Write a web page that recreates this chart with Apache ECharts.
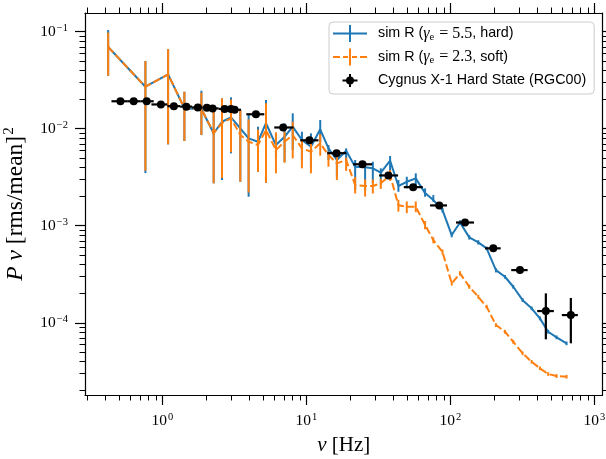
<!DOCTYPE html>
<html><head><meta charset="utf-8">
<script src="https://cdn.jsdelivr.net/npm/echarts@6.0.0/dist/echarts.min.js"></script>
<style>html,body{margin:0;padding:0;background:#fff}#c{width:606px;height:459px}</style>
</head><body><div id="c"></div>
<script>
// ---------- data ----------
const simFreq = [0.42, 0.762, 1.095, 1.421, 1.865, 2.269, 2.594, 2.995, 3.475, 3.968, 4.61, 5.238, 6.144, 7.05, 8.035, 9.307, 10.75, 12.47, 14.23, 16.28, 18.88, 21.8, 25.56, 28.92, 32.86, 38.12, 43.53, 49.77, 57.45, 66.68, 76.08, 88.14, 102.1, 116.6, 135.2, 156.1, 178.5, 207.1, 239.1, 273.1, 317.3, 366.3, 418.2, 477.4, 546, 640.5];

const hardPow = [0.0696, 0.0271, 0.0364, 0.0162, 0.0160, 0.00897, 0.0118, 0.0131, 0.0101, 0.00796, 0.00735, 0.0114, 0.00679, 0.00827, 0.0105, 0.00765, 0.00652, 0.00986, 0.00628, 0.00476, 0.00593, 0.00406, 0.0040, 0.00391, 0.00352, 0.00468, 0.00257, 0.00284, 0.00308, 0.00217, 0.00184, 0.00145, 0.000802, 0.00108, 0.000759, 0.000674, 0.000585, 0.000349, 0.000298, 0.000235, 0.000171, 0.000141, 0.000111, 0.0000808, 0.0000707, 0.0000613];
const hardLo = [0.0352, 0.00349, 0.0069, 0.00747, 0.00861, 0.00274, 0.00296, 0.00558, 0.00284, 0.00199, 0.0036, 0.00277, 0.00495, 0.00457, 0.00603, 0.00476, 0.00391, 0.00735, 0.00476, 0.0032, 0.00457, 0.00233, 0.00233, 0.00274, 0.00263, 0.0036, 0.00224, 0.00243, 0.00257, 0.00199, 0.00177, 0.00137, 0.00076, 0.00102, 0.00072, 0.00064, 0.00056, 0.00033, 0.000285, 0.000225, 0.000164, 0.000135, 0.000106, 0.0000773, 0.0000677, 0.0000587];
const hardHi = [0.1041, 0.0499, 0.0663, 0.02406, 0.02465, 0.01686, 0.02057, 0.02107, 0.01559, 0.01384, 0.01049, 0.01976, 0.00897, 0.01137, 0.01442, 0.00931, 0.00897, 0.01229, 0.00679, 0.00579, 0.00628, 0.00476, 0.00457, 0.00457, 0.00391, 0.00523, 0.00296, 0.0032, 0.00347, 0.00243, 0.00207, 0.00153, 0.00085, 0.00114, 0.0008, 0.00071, 0.00061, 0.000365, 0.000311, 0.000245, 0.000179, 0.000147, 0.000116, 0.0000845, 0.0000739, 0.000064];

const softPow = [0.0696, 0.0271, 0.0364, 0.0162, 0.0160, 0.00904, 0.01145, 0.0128, 0.00861, 0.00735, 0.00679, 0.0097, 0.00603, 0.00735, 0.00861, 0.00628, 0.00579, 0.00707, 0.00536, 0.0044, 0.00476, 0.00263, 0.00257, 0.00257, 0.00274, 0.00333, 0.00163, 0.00157, 0.00157, 0.00102, 0.000712, 0.000536, 0.000255, 0.000323, 0.000235, 0.000185, 0.000146, 0.0000947, 0.0000808, 0.0000637, 0.0000484, 0.0000396, 0.0000339, 0.0000296, 0.0000282, 0.0000278];
const softLo = [0.0352, 0.0037, 0.0069, 0.00747, 0.00861, 0.00274, 0.0031, 0.00574, 0.00284, 0.0022, 0.0036, 0.00277, 0.00347, 0.00446, 0.00495, 0.00391, 0.00347, 0.00527, 0.00406, 0.00296, 0.00367, 0.00215, 0.002, 0.00215, 0.0024, 0.0029, 0.0014, 0.00135, 0.00138, 0.00092, 0.00066, 0.000505, 0.000242, 0.000307, 0.000224, 0.000177, 0.00014, 0.0000905, 0.0000773, 0.000061, 0.0000464, 0.000038, 0.0000325, 0.0000284, 0.000027, 0.0000266];
const softHi = [0.098, 0.0499, 0.0663, 0.02406, 0.0235, 0.0165, 0.02057, 0.02, 0.01559, 0.0125, 0.0098, 0.0183, 0.00919, 0.00931, 0.01184, 0.00764, 0.00797, 0.00881, 0.00579, 0.00535, 0.00504, 0.0032, 0.003, 0.003, 0.00305, 0.00375, 0.00185, 0.00178, 0.00178, 0.00112, 0.00076, 0.000568, 0.000268, 0.00034, 0.000247, 0.000194, 0.000153, 0.000099, 0.0000845, 0.0000666, 0.0000505, 0.0000413, 0.0000354, 0.0000309, 0.0000295, 0.000029];

const cygFreq = [0.511, 0.632, 0.778, 0.976, 1.201, 1.467, 1.763, 2.035, 2.233, 2.704, 2.995, 3.172, 4.46, 6.9, 10.5, 16.2, 24.5, 37.1, 55.1, 83.7, 126.3, 198.5, 304, 460, 686];
const cygFreqLo = [0.4428, 0.5691, 0.7016, 0.8387, 1.083, 1.327, 1.607, 1.894, 2.132, 2.457, 2.846, 3.083, 3.824, 5.979, 9.057, 13.94, 21.11, 31.98, 47.46, 72.21, 109.3, 173.8, 264.5, 400.6, 594.0];
const cygFreqHi = [0.5691, 0.7016, 0.8702, 1.083, 1.327, 1.607, 1.894, 2.132, 2.457, 2.846, 3.083, 3.514, 5.098, 8.137, 12.13, 18.88, 28.60, 43.31, 64.26, 94.71, 145.8, 223.3, 343.6, 522.9, 767.3];
const cygPow = [0.0192, 0.0192, 0.0192, 0.0178, 0.0171, 0.0169, 0.0166, 0.0165, 0.0162, 0.0160, 0.0160, 0.0157, 0.0141, 0.0103, 0.0076, 0.0056, 0.0043, 0.0033, 0.0025, 0.00162, 0.00108, 0.000585, 0.000349, 0.000132, 0.00012];
const cygPowLo = [0.0184, 0.0184, 0.0184, 0.0171, 0.0164, 0.0162, 0.0159, 0.0158, 0.0156, 0.0154, 0.0154, 0.0151, 0.0135, 0.0099, 0.0073, 0.0054, 0.0041, 0.0031, 0.0024, 0.00154, 0.00102, 0.00055, 0.00033, 0.0000675, 0.0000614];
const cygPowHi = [0.0200, 0.0200, 0.0200, 0.0185, 0.0178, 0.0176, 0.0173, 0.0172, 0.0168, 0.0166, 0.0166, 0.0163, 0.0147, 0.0107, 0.0079, 0.0058, 0.0045, 0.0035, 0.0026, 0.00170, 0.00114, 0.00062, 0.00037, 0.000201, 0.00018];

const xMajorTicks = [1, 10, 100, 1000];
const xMinorTicks = [0.3, 0.4, 0.5, 0.6, 0.7, 0.8, 0.9, 2, 3, 4, 5, 6, 7, 8, 9, 20, 30, 40, 50, 60, 70, 80, 90, 200, 300, 400, 500, 600, 700, 800, 900];
const yMajorTicks = [1e-4, 1e-3, 1e-2, 1e-1];
const yMinorTicks = [2e-5, 3e-5, 4e-5, 5e-5, 6e-5, 7e-5, 8e-5, 9e-5, 2e-4, 3e-4, 4e-4, 5e-4, 6e-4, 7e-4, 8e-4, 9e-4, 2e-3, 3e-3, 4e-3, 5e-3, 6e-3, 7e-3, 8e-3, 9e-3, 2e-2, 3e-2, 4e-2, 5e-2, 6e-2, 7e-2, 8e-2, 9e-2];

const legendLabels = {
  hard: '{t|sim R (}{g|γ}{sub|e}{m| = 5.5}{t|, hard)}',
  soft: '{t|sim R (}{g|γ}{sub|e}{m| = 2.3}{t|, soft)}',
  cyg: '{t|Cygnus X-1 Hard State (RGC00)}'
};

// ---------- styling ----------
const BLUE = '#1f77b4', ORANGE = '#ff7f0e';
const X_MIN = 0.29, X_MAX = 1138, Y_MIN = 1.8e-5, Y_MAX = 0.156;
const SERIF = 'Liberation Serif';
const MAJOR_LEN = 10, MINOR_LEN = 5.5, AXIS_W = 1.2;

const labelRich = {
  b: {fontFamily: SERIF, fontSize: 15.5, lineHeight: 16, color: '#000'},
  s: {fontFamily: SERIF, fontSize: 10.5, lineHeight: 11, padding: [0, 0, 7, 1], color: '#000'}
};
function powLabel(v) {
  const e = Math.round(Math.log10(v));
  return '{b|10}{s|' + (e < 0 ? '\u2212' + (-e) : e) + '}';
}

function axisBase(pos, min, max) {
  return {type: 'log', logBase: 10, position: pos, min: min, max: max, gridIndex: 0,
    splitLine: {show: false}, minorTick: {show: false}, minorSplitLine: {show: false}};
}
function majorAxis(pos, min, max, ticks, showLabels, margin) {
  const a = axisBase(pos, min, max);
  a.axisLine = {show: true, lineStyle: {color: '#000', width: AXIS_W}};
  a.axisTick = {show: true, inside: false, length: MAJOR_LEN, customValues: ticks, lineStyle: {color: '#000', width: AXIS_W}};
  a.axisLabel = showLabels ? {show: true, customValues: ticks, formatter: powLabel, margin: margin, rich: labelRich, color: '#000'} : {show: false};
  return a;
}
function minorAxis(pos, min, max, ticks) {
  const a = axisBase(pos, min, max);
  a.axisLine = {show: false};
  a.axisTick = {show: true, inside: false, length: MINOR_LEN, customValues: ticks, lineStyle: {color: '#000', width: 1}};
  a.axisLabel = {show: false};
  return a;
}

const xMain = majorAxis('bottom', X_MIN, X_MAX, xMajorTicks, true, 18);
xMain.name = '{i|ν}{m| [Hz]}';
xMain.nameLocation = 'middle';
xMain.nameGap = 34;
xMain.nameTextStyle = {color: '#000', rich: {
  i: {fontFamily: SERIF, fontStyle: 'italic', fontSize: 21},
  m: {fontFamily: SERIF, fontSize: 21}}};

const yMain = majorAxis('left', Y_MIN, Y_MAX, yMajorTicks, true, 17);
yMain.name = '{i|P}{m| }{i|ν}{m| [rms/mean]}{s|2}';
yMain.nameLocation = 'middle';
yMain.nameRotate = 90;
yMain.nameGap = 52;
yMain.nameTextStyle = {color: '#000', rich: {
  i: {fontFamily: SERIF, fontStyle: 'italic', fontSize: 23.5, lineHeight: 24},
  m: {fontFamily: SERIF, fontSize: 23.5, lineHeight: 24},
  s: {fontFamily: SERIF, fontSize: 15, lineHeight: 15, padding: [0, 0, 13, 1]}}};

function vbar(color, width) {
  return function (params, api) {
    const x = api.value(0);
    const p1 = api.coord([x, api.value(1)]);
    const p2 = api.coord([x, api.value(2)]);
    return {type: 'line', shape: {x1: p1[0], y1: p1[1], x2: p2[0], y2: p2[1]},
      style: {stroke: color, lineWidth: width}};
  };
}
function xyBar(params, api) {
  const x = api.value(0), y = api.value(1);
  const a = api.coord([api.value(2), y]), b = api.coord([api.value(3), y]);
  const c = api.coord([x, api.value(4)]), d = api.coord([x, api.value(5)]);
  return {type: 'group', children: [
    {type: 'line', shape: {x1: a[0], y1: a[1], x2: b[0], y2: b[1]}, style: {stroke: '#000', lineWidth: 2.2}},
    {type: 'line', shape: {x1: c[0], y1: c[1], x2: d[0], y2: d[1]}, style: {stroke: '#000', lineWidth: 2.2}}
  ]};
}

const hardLine = simFreq.map((f, i) => [f, hardPow[i]]);
const softLine = simFreq.map((f, i) => [f, softPow[i]]);
const hardErr = simFreq.map((f, i) => [f, hardLo[i], hardHi[i]]);
const softErr = simFreq.map((f, i) => [f, softLo[i], softHi[i]]);
const cygPts = cygFreq.map((f, i) => [f, cygPow[i]]);
const cygErr = cygFreq.map((f, i) => [f, cygPow[i], cygFreqLo[i], cygFreqHi[i], cygPowLo[i], cygPowHi[i]]);

const ICON_HARD = 'path://M0,7.5h34v2h-34z M16,0h2v17h-2z';
const ICON_SOFT = 'path://M0,7.5h7v2h-7z M10,7.5h5v2h-5z M19,7.5h5v2h-5z M27,7.5h7v2h-7z M16,0h2v17h-2z';
const ICON_CYG = 'path://M0,0h34v0.01h-34z M9.5,7.5h15v2h-15z M16,2h2v13h-2z M13,8.5a4,4 0 1 1 8,0a4,4 0 1 1 -8,0z M0,16.99h34v0.01h-34z';

const option = {
  animation: false,
  backgroundColor: '#fff',
  grid: {left: 85, right: 3.5, top: 13, bottom: 64, containLabel: false, outerBoundsMode: 'none'},
  xAxis: [xMain, minorAxis('bottom', X_MIN, X_MAX, xMinorTicks),
    majorAxis('top', X_MIN, X_MAX, xMajorTicks, false, 0), minorAxis('top', X_MIN, X_MAX, xMinorTicks)],
  yAxis: [yMain, minorAxis('left', Y_MIN, Y_MAX, yMinorTicks),
    majorAxis('right', Y_MIN, Y_MAX, yMajorTicks, false, 0), minorAxis('right', Y_MIN, Y_MAX, yMinorTicks)],
  legend: {
    show: true, orient: 'vertical', left: 329, top: 22,
    itemWidth: 34, itemHeight: 17, itemGap: 6,
    padding: [3, 8, 5, 4],
    backgroundColor: 'rgba(255,255,255,0.8)', borderColor: '#cccccc', borderWidth: 1, borderRadius: 4,
    selectedMode: false,
    data: [{name: 'hard', icon: ICON_HARD}, {name: 'soft', icon: ICON_SOFT}, {name: 'cyg', icon: ICON_CYG}],
    formatter: function (name) { return legendLabels[name]; },
    textStyle: {color: '#000', padding: [0, 0, 0, 6], rich: {
      t: {fontFamily: 'Liberation Sans', fontSize: 14.3, color: '#000'},
      g: {fontFamily: SERIF, fontStyle: 'italic', fontSize: 16, color: '#000'},
      sub: {fontFamily: SERIF, fontSize: 10.5, padding: [7, 1, 0, 0], color: '#000'},
      m: {fontFamily: SERIF, fontSize: 16, color: '#000'}}}
  },
  series: [
    {type: 'line', name: 'hardLine', data: hardLine, xAxisIndex: 0, yAxisIndex: 0, showSymbol: false, symbol: 'none',
      lineStyle: {color: BLUE, width: 2}, itemStyle: {color: BLUE}, z: 2, silent: true},
    {type: 'custom', name: 'hard', data: hardErr, xAxisIndex: 0, yAxisIndex: 0, encode: {x: 0, y: [1, 2]},
      renderItem: vbar(BLUE, 2), itemStyle: {color: BLUE}, z: 3, silent: true},
    {type: 'line', name: 'softLine', data: softLine, xAxisIndex: 0, yAxisIndex: 0, showSymbol: false, symbol: 'none',
      lineStyle: {color: ORANGE, width: 2, type: [7.4, 3.2]}, itemStyle: {color: ORANGE}, z: 4, silent: true},
    {type: 'custom', name: 'soft', data: softErr, xAxisIndex: 0, yAxisIndex: 0, encode: {x: 0, y: [1, 2]},
      renderItem: vbar(ORANGE, 2), itemStyle: {color: ORANGE}, z: 5, silent: true},
    {type: 'custom', name: 'cyg', data: cygErr, xAxisIndex: 0, yAxisIndex: 0, encode: {x: [0, 2, 3], y: [1, 4, 5]},
      renderItem: xyBar, itemStyle: {color: '#000', opacity: 1}, z: 6, silent: true},
    {type: 'scatter', name: 'cygPts', data: cygPts, xAxisIndex: 0, yAxisIndex: 0, symbol: 'circle', symbolSize: 8,
      itemStyle: {color: '#000', opacity: 1}, z: 7, silent: true}
  ]
};
const chart = echarts.init(document.getElementById('c'), null, {renderer: 'canvas'});
chart.setOption(option);
</script>
</body></html>
